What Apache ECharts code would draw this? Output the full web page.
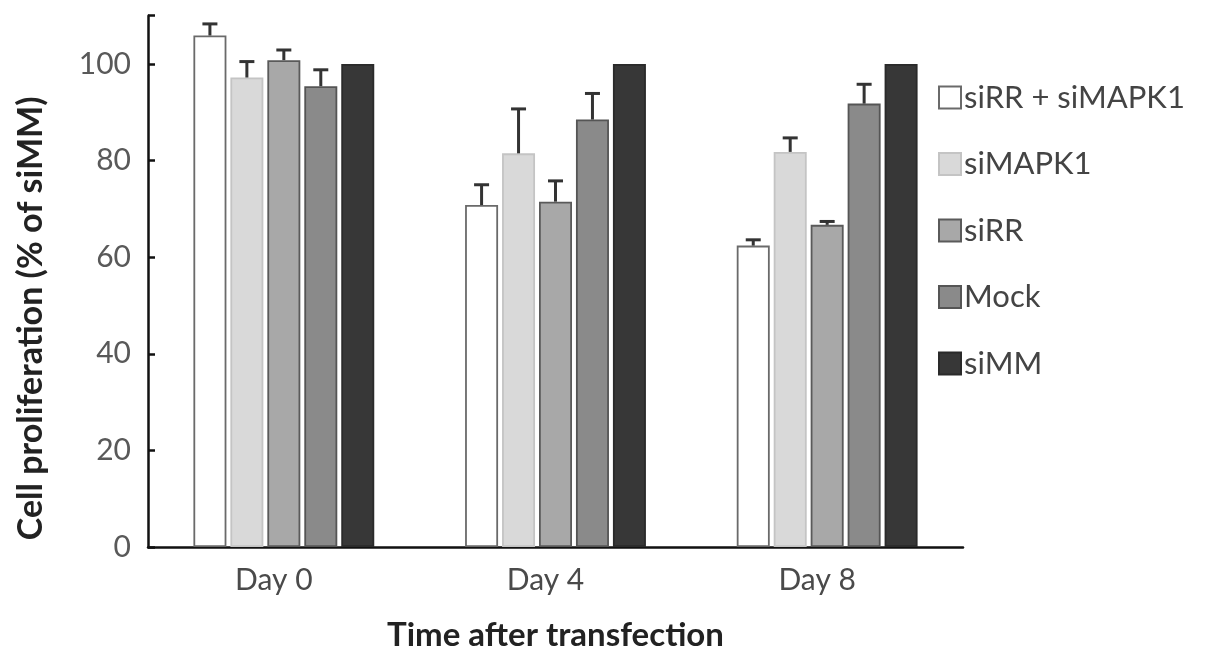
<!DOCTYPE html>
<html><head><meta charset="utf-8">
<script src="https://cdn.jsdelivr.net/npm/echarts@6/dist/echarts.min.js"></script>
<style>html,body{margin:0;padding:0;background:#fff}#c{width:1205px;height:663px}</style>
</head><body><div id="c"></div>
<script>
const categories = ['Day 0', 'Day 4', 'Day 8'];
const seriesNames = ['siRR + siMAPK1', 'siMAPK1', 'siRR', 'Mock', 'siMM'];
const valRRMAPK1 = [105.9, 70.8, 62.4];
const valMAPK1 = [97.2, 81.5, 81.8];
const valRR = [100.8, 71.5, 66.7];
const valMock = [95.4, 88.5, 91.8];
const valMM = [100, 100, 100];
const errRRMAPK1 = [2.4, 4.2, 1.2];
const errMAPK1 = [3.3, 9.2, 2.9];
const errRR = [2.1, 4.3, 0.7];
const errMock = [3.4, 5.4, 4.0];
const errMM = [0, 0, 0];
const yTicks = [0, 20, 40, 60, 80, 100];

const values = [valRRMAPK1, valMAPK1, valRR, valMock, valMM];
const errors = [errRRMAPK1, errMAPK1, errRR, errMock, errMM];
const fills = ['#ffffff', '#d9d9d9', '#a8a8a8', '#8a8a8a', '#373737'];
const borders = ['#6a6a6a', '#c4c4c4', '#5a5a5a', '#555555', '#2a2a2a'];
const BAR_W = 33, GAP = 0.12;
const FONT = 'Lato, "Open Sans", sans-serif';

const chart = echarts.init(document.getElementById('c'));
const series = [];
values.forEach((v, i) => {
  series.push({
    name: seriesNames[i], type: 'bar', data: v, barWidth: BAR_W, barGap: (GAP*100)+'%',
    itemStyle: { color: fills[i], borderColor: borders[i], borderWidth: 1.8 },
    z: 2
  });
});
values.forEach((v, i) => {
  if (errors[i].every(e => e === 0)) return;
  series.push({
    type: 'custom', name: 'err' + i, z: 3, silent: true,
    data: v.map((val, k) => [k, val, val + errors[i][k]]),
    renderItem: function (params, api) {
      const k = api.value(0);
      const base = api.coord([k, api.value(1)]);
      const top = api.coord([k, api.value(2)]);
      const pitch = BAR_W * (1 + GAP);
      const x = base[0] + (i - 2) * pitch;
      const st = { stroke: '#333', lineWidth: 3 };
      return { type: 'group', children: [
        { type: 'line', shape: { x1: x, y1: base[1], x2: x, y2: top[1] }, style: st },
        { type: 'line', shape: { x1: x - 7.5, y1: top[1], x2: x + 7.5, y2: top[1] }, style: st }
      ]};
    },
    encode: { x: 0, y: [1, 2] }
  });
});

chart.setOption({
  animation: false,
  grid: { left: 148, right: 242, top: 15.7, bottom: 116 },
  legend: {
    data: seriesNames, orient: 'vertical', left: 933, top: 77,
    itemWidth: 22, itemHeight: 22, itemGap: 35.5, icon: 'rect',
    textStyle: { fontFamily: FONT, fontSize: 31, color: '#444', padding: [0,0,0,-2] }
  },
  xAxis: {
    type: 'category', data: categories,
    axisLine: { lineStyle: { color: '#111', width: 2.5 } },
    axisTick: { show: false },
    axisLabel: { fontFamily: FONT, fontSize: 30, color: '#4a4a4a', margin: 18, padding: [0, 20, 0, 0] },
    name: 'Time after transfection', nameLocation: 'middle', nameGap: 72,
    nameTextStyle: { fontFamily: FONT, fontSize: 33, fontWeight: 'bold', color: '#222' }
  },
  yAxis: {
    type: 'value', min: 0, max: 110, interval: 20,
    axisLine: { show: true, lineStyle: { color: '#111', width: 2.5 } },
    axisTick: { show: true, inside: true, length: 7, lineStyle: { color: '#111', width: 2.5 } },
    splitLine: { show: false },
    axisLabel: { fontFamily: FONT, fontSize: 30, color: '#595959', margin: 17,
      formatter: v => yTicks.includes(v) ? String(v) : '' },
    name: 'Cell proliferation (% of siMM)', nameLocation: 'middle', nameGap: 100,
    nameTextStyle: { fontFamily: FONT, fontSize: 34, fontWeight: 'bold', color: '#222', padding: [0, 74, 0, 0] }
  },
  series: series
});
</script></body></html>
